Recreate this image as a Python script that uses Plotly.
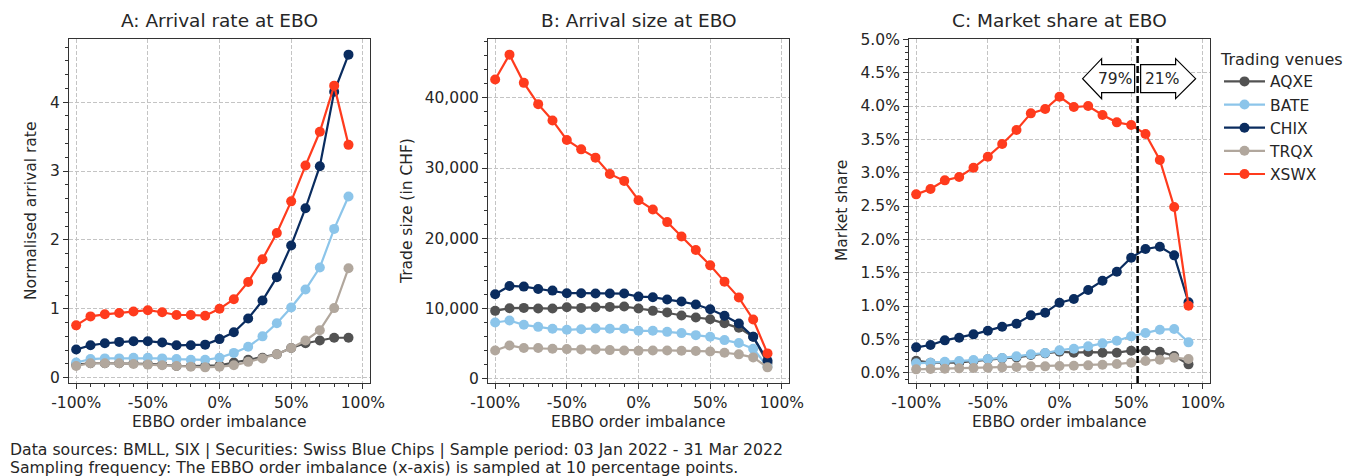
import plotly.graph_objects as go

W, H = 1360, 476

# ---------------- data ----------------
imbalance = [-100, -90, -80, -70, -60, -50, -40, -30, -20, -10,
             0, 10, 20, 30, 40, 50, 60, 70, 80, 90]
venues = ["AQXE", "BATE", "CHIX", "TRQX", "XSWX"]
venue_colors = ["#525252", "#8cc5ea", "#0a2c5f", "#b1a79d", "#ff3b1d"]

# Panel A: normalised arrival rate
rate_AQXE = [0.19, 0.21, 0.21, 0.21, 0.21, 0.20, 0.19, 0.17, 0.17, 0.17,
             0.18, 0.22, 0.26, 0.29, 0.34, 0.43, 0.50, 0.54, 0.58, 0.58]
rate_BATE = [0.22, 0.27, 0.28, 0.28, 0.29, 0.29, 0.28, 0.27, 0.26, 0.26,
             0.29, 0.36, 0.45, 0.60, 0.79, 1.02, 1.28, 1.60, 2.16, 2.63]
rate_CHIX = [0.41, 0.47, 0.50, 0.52, 0.53, 0.53, 0.51, 0.47, 0.47, 0.48,
             0.56, 0.66, 0.86, 1.12, 1.46, 1.92, 2.46, 3.07, 4.15, 4.69]
rate_TRQX = [0.17, 0.21, 0.21, 0.21, 0.20, 0.19, 0.18, 0.17, 0.16, 0.15,
             0.16, 0.18, 0.23, 0.28, 0.34, 0.43, 0.54, 0.69, 1.01, 1.59]
rate_XSWX = [0.76, 0.89, 0.92, 0.94, 0.96, 0.98, 0.95, 0.91, 0.91, 0.90,
             1.00, 1.14, 1.39, 1.72, 2.10, 2.56, 3.08, 3.57, 4.24, 3.38]

# Panel B: trade size (CHF)
size_AQXE = [9660, 10040, 10080, 9990, 9990, 10180, 10080, 10180, 10220, 10270,
             9990, 9660, 9420, 9000, 8710, 8470, 7910, 7240, 5960, 2220]
size_BATE = [8000, 8280, 7670, 7380, 7100, 6960, 7050, 7150, 7100, 7100,
             6820, 6820, 6670, 6490, 6200, 5960, 5490, 5070, 4260, 1750]
size_CHIX = [12020, 13210, 13110, 12780, 12540, 12170, 12170, 12120, 12120, 12120,
             11690, 11600, 11270, 10980, 10560, 9890, 8950, 7860, 5960, 2560]
size_TRQX = [4020, 4730, 4360, 4360, 4260, 4210, 4170, 4170, 4070, 4020,
             3980, 4020, 4020, 3980, 3930, 3880, 3690, 3460, 3030, 1610]
size_XSWX = [42600, 46150, 42130, 39100, 36780, 33990, 32660, 31480, 29160, 28170,
             25420, 24090, 22300, 20260, 18320, 16140, 13820, 11550, 8430, 3600]

# Panel C: market share
share_AQXE = [0.00180, 0.00150, 0.00150, 0.00150, 0.00175, 0.00200, 0.00215, 0.00230, 0.00265, 0.00290,
              0.00315, 0.00300, 0.00310, 0.00300, 0.00300, 0.00330, 0.00330, 0.00315, 0.00250, 0.00125]
share_BATE = [0.00140, 0.00150, 0.00165, 0.00175, 0.00190, 0.00205, 0.00220, 0.00245, 0.00275, 0.00295,
              0.00335, 0.00360, 0.00395, 0.00440, 0.00480, 0.00545, 0.00595, 0.00645, 0.00655, 0.00455]
share_CHIX = [0.00380, 0.00415, 0.00485, 0.00525, 0.00575, 0.00630, 0.00690, 0.00735, 0.00860, 0.00900,
              0.01050, 0.01105, 0.01240, 0.01380, 0.01515, 0.01725, 0.01855, 0.01890, 0.01760, 0.01055]
share_TRQX = [0.00050, 0.00055, 0.00060, 0.00065, 0.00070, 0.00075, 0.00080, 0.00085, 0.00095, 0.00095,
              0.00100, 0.00105, 0.00110, 0.00120, 0.00130, 0.00150, 0.00175, 0.00195, 0.00225, 0.00205]
share_XSWX = [0.02675, 0.02755, 0.02885, 0.02935, 0.03075, 0.03240, 0.03430, 0.03640, 0.03890, 0.03955,
              0.04140, 0.03985, 0.04000, 0.03865, 0.03755, 0.03715, 0.03580, 0.03190, 0.02485, 0.01005]

split_point = 54.5            # EBBO imbalance where the dashed line sits
split_labels = ["79%", "21%"]  # share of volume left / right of split

x_ticks = [-100, -50, 0, 50, 100]
x_ticktext = ["-100%", "-50%", "0%", "50%", "100%"]

panel_titles = ["A: Arrival rate at EBO", "B: Arrival size at EBO", "C: Market share at EBO"]
y_titles = ["Normalised arrival rate", "Trade size (in CHF)", "Market share"]
x_title = "EBBO order imbalance"
legend_title = "Trading venues"
footer_lines = [
    "Data sources: BMLL, SIX | Securities: Swiss Blue Chips | Sample period: 03 Jan 2022 - 31 Mar 2022",
    "Sampling frequency: The EBBO order imbalance (x-axis) is sampled at 10 percentage points.",
]

rates = [rate_AQXE, rate_BATE, rate_CHIX, rate_TRQX, rate_XSWX]
sizes = [size_AQXE, size_BATE, size_CHIX, size_TRQX, size_XSWX]
shares = [share_AQXE, share_BATE, share_CHIX, share_TRQX, share_XSWX]

# ---------------- layout helpers ----------------
FONT = "DejaVu Sans"
TXT = "#262626"
AX = "#333333"
GRID = "#c4c4c4"
FS = 15.5      # tick / label font size
FS_T = 18.5    # panel title font size


def px_x(p):
    return p / W


def px_y(p):
    return 1 - p / H


def auto_range(series_list):
    lo = min(min(s) for s in series_list)
    hi = max(max(s) for s in series_list)
    m = 0.05 * (hi - lo)
    return [lo - m, hi + m]


panel_px = [(69, 370), (488, 789), (909, 1210)]
y_top_px, y_bot_px = 39, 383
ydom = [px_y(y_bot_px), px_y(y_top_px)]

fig = go.Figure()

panels = [rates, sizes, shares]
for p, data in enumerate(panels):
    xa = "x" if p == 0 else f"x{p + 1}"
    ya = "y" if p == 0 else f"y{p + 1}"
    for v, (name, col) in enumerate(zip(venues, venue_colors)):
        fig.add_trace(go.Scatter(
            x=imbalance, y=data[v], name=name, mode="lines+markers",
            line=dict(color=col, width=2.2),
            marker=dict(color=col, size=10),
            xaxis=xa, yaxis=ya, legendgroup=name,
            showlegend=(p == 2),
        ))

base_axis = dict(
    showline=True, linecolor=AX, linewidth=1, mirror=True,
    ticks="outside", ticklen=5, tickwidth=1, tickcolor=AX,
    showgrid=True, gridcolor=GRID, gridwidth=1, griddash="4px,2px",
    zeroline=False, automargin=False,
    tickfont=dict(family=FONT, size=FS, color=TXT),
)

layout = dict(
    width=W, height=H, autosize=False,
    margin=dict(l=0, r=0, t=0, b=0, pad=0, autoexpand=False),
    paper_bgcolor="white", plot_bgcolor="white",
    font=dict(family=FONT, size=FS, color=TXT),
    showlegend=True,
    legend=dict(
        x=px_x(1219), y=px_y(44), xanchor="left", yanchor="top",
        title=dict(text=legend_title, font=dict(family=FONT, size=16, color=TXT)),
        font=dict(family=FONT, size=FS, color=TXT),
        tracegroupgap=0, itemwidth=41, bgcolor="rgba(0,0,0,0)",
    ),
)

y_ranges = [auto_range(rates), auto_range(sizes), [auto_range(shares)[0], 0.05005]]
y_specs = [
    dict(dtick=1, tick0=0, minor_dtick=0.2, fmt=None),
    dict(dtick=10000, tick0=0, minor_dtick=2000, fmt=",d"),
    dict(dtick=0.005, tick0=0, minor_dtick=0.001, fmt=".1%"),
]

for p in range(3):
    sfx = "" if p == 0 else str(p + 1)
    xd = [px_x(panel_px[p][0]), px_x(panel_px[p][1])]
    xaxis = dict(base_axis)
    xaxis.update(domain=xd, anchor="y" + sfx, range=[-105, 105],
                 tickmode="array", tickvals=x_ticks, ticktext=x_ticktext,
                 minor=dict(tickmode="linear", tick0=0, dtick=10, ticks="outside",
                            ticklen=3, tickcolor=AX, showgrid=False))
    yaxis = dict(base_axis)
    spec = y_specs[p]
    yaxis.update(domain=ydom, anchor="x" + sfx, range=y_ranges[p],
                 tickmode="linear", tick0=spec["tick0"], dtick=spec["dtick"],
                 minor=dict(tickmode="linear", tick0=0, dtick=spec["minor_dtick"],
                            ticks="outside", ticklen=3, tickcolor=AX, showgrid=False))
    if spec["fmt"]:
        yaxis["tickformat"] = spec["fmt"]
    layout["xaxis" + sfx] = xaxis
    layout["yaxis" + sfx] = yaxis

fig.update_layout(**layout)

# titles & axis labels
ytitle_px = [31, 407, 842]
for p in range(3):
    cx = (panel_px[p][0] + panel_px[p][1]) / 2
    fig.add_annotation(text=panel_titles[p], x=px_x(cx), y=px_y(21), xref="paper", yref="paper",
                       xanchor="center", yanchor="middle", showarrow=False,
                       font=dict(family=FONT, size=FS_T, color=TXT))
    fig.add_annotation(text=x_title, x=px_x(cx), y=px_y(422), xref="paper", yref="paper",
                       xanchor="center", yanchor="middle", showarrow=False,
                       font=dict(family=FONT, size=FS, color=TXT))
    fig.add_annotation(text=y_titles[p], x=px_x(ytitle_px[p]), y=px_y((y_top_px + y_bot_px) / 2),
                       xref="paper", yref="paper", textangle=-90,
                       xanchor="center", yanchor="middle", showarrow=False,
                       font=dict(family=FONT, size=FS, color=TXT))

for line, ypx in zip(footer_lines, (449, 467)):
    fig.add_annotation(text=line, x=px_x(8), y=px_y(ypx), xref="paper", yref="paper",
                       xanchor="left", yanchor="middle", align="left", showarrow=False,
                       font=dict(family=FONT, size=15.7, color=TXT))

# split line + arrows in panel C
fig.add_shape(type="line", xref="x3", yref="y3 domain", x0=split_point, x1=split_point, y0=0, y1=1,
              line=dict(color="black", width=2.5, dash="7px,3px"), layer="above")

arrow_y = 0.0441
left_arrow = "M -3,14 L -36,14 L -36,20 L -55,0 L -36,-20 L -36,-14 L -3,-14 Z"
right_arrow = "M 3,14 L 38,14 L 38,20 L 58,0 L 38,-20 L 38,-14 L 3,-14 Z"
for path in (left_arrow, right_arrow):
    fig.add_shape(type="path", xref="x3", yref="y3", xsizemode="pixel", ysizemode="pixel",
                  xanchor=split_point, yanchor=arrow_y, path=path,
                  fillcolor="white", line=dict(color="black", width=1.2), layer="above")
for lab, shift in zip(split_labels, (-23, 24)):
    fig.add_annotation(text=lab, x=split_point, y=arrow_y, xref="x3", yref="y3",
                       xshift=shift, showarrow=False, xanchor="center", yanchor="middle",
                       font=dict(family=FONT, size=FS, color=TXT))

fig.write_html("out.html", config={"displayModeBar": False},
               post_script="document.body.style.margin='0';")
